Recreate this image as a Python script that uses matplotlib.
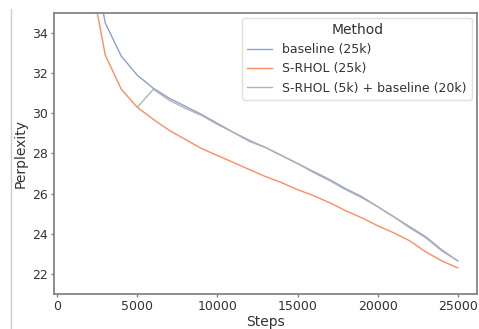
import matplotlib
matplotlib.use("Agg")
import matplotlib.pyplot as plt
from matplotlib.lines import Line2D

steps = list(range(1000, 26000, 1000))
baseline = [48.0, 38.7, 34.5, 32.85, 31.9, 31.25, 30.75, 30.35, 29.95, 29.5,
            29.05, 28.65, 28.3, 27.9, 27.5, 27.1, 26.7, 26.25, 25.85, 25.35,
            24.85, 24.35, 23.85, 23.2, 22.65]
srhol = [45.0, 37.15, 32.9, 31.2, 30.3, 29.7, 29.15, 28.7, 28.25, 27.9,
         27.55, 27.2, 26.85, 26.55, 26.2, 25.9, 25.55, 25.15, 24.8, 24.4,
         24.05, 23.65, 23.1, 22.65, 22.3]
mixed_steps = list(range(5000, 26000, 1000))
mixed = [30.3, 31.2, 30.65, 30.25, 29.9, 29.45, 29.05, 28.6, 28.3, 27.9,
         27.5, 27.05, 26.65, 26.2, 25.8, 25.35, 24.85, 24.3, 23.8, 23.15, 22.65]

labels = ["baseline (25k)", "S-RHOL (25k)", "S-RHOL (5k) + baseline (20k)"]
colors = ["#8da0cb", "#fc8d62", "#b3b3b3"]

text_color = "#333333"
spine_color = "#808080"

fig = plt.figure(figsize=(4.79, 3.29), dpi=100)
ax = fig.add_axes([0.1127, 0.1064, 0.8831, 0.8541])

ax.plot(steps, baseline, color=colors[0], lw=1.0, label=labels[0])
ax.plot(steps, srhol, color=colors[1], lw=1.0, label=labels[1])
ax.plot(mixed_steps, mixed, color=colors[2], lw=1.0, label=labels[2])

ax.set_xlim(-200, 26200)
ax.set_ylim(21, 35)
ax.set_xticks([0, 5000, 10000, 15000, 20000, 25000])
ax.set_yticks([22, 24, 26, 28, 30, 32, 34])

for s in ax.spines.values():
    s.set_color(spine_color)
    s.set_linewidth(1.25)
ax.tick_params(colors=spine_color, labelcolor=text_color, labelsize=9,
               length=2.5, width=1.0, pad=2)

ax.set_xlabel("Steps", fontsize=10, color=text_color, labelpad=1)
ax.set_ylabel("Perplexity", fontsize=10, color=text_color, labelpad=3)

handles = [Line2D([], [], color=c, lw=1.0) for c in colors]
leg = ax.legend(handles, labels, title="Method", loc="upper right",
                fontsize=9, title_fontsize=10, frameon=True,
                fancybox=True, edgecolor="#e0e0e0", framealpha=1.0,
                borderaxespad=0.4)
for t in leg.get_texts():
    t.set_color(text_color)
leg.get_title().set_color(text_color)

# thin divider line along the left side of the figure
fig.add_artist(Line2D([11 / 479, 11 / 479], [0, 1 - 9 / 329],
                      transform=fig.transFigure, color="#cccccc", lw=1.0))

fig.savefig("out.png", dpi=100)
